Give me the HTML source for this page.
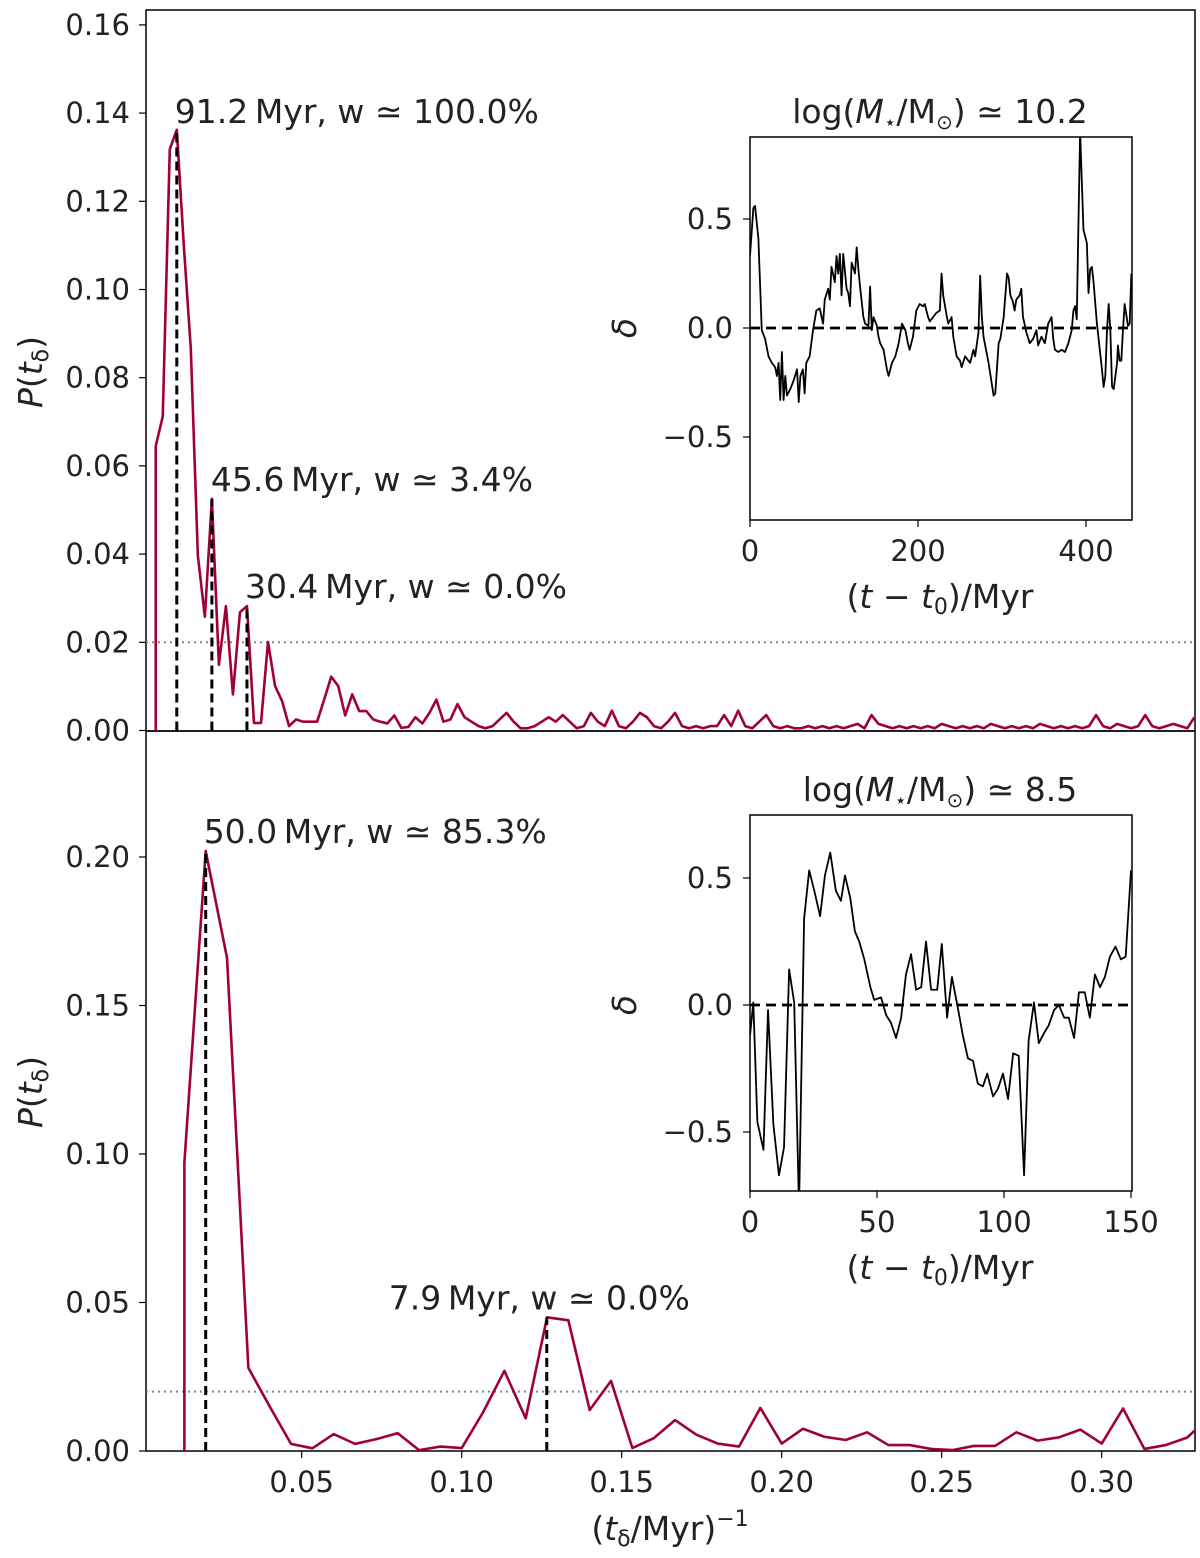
<!DOCTYPE html>
<html><head><meta charset="utf-8">
<style>
html,body{margin:0;padding:0;background:#fff;}
svg text{font-family:"DejaVu Sans","Liberation Sans",sans-serif;fill:#222;}
</style></head>
<body>
<svg id="fig" xmlns="http://www.w3.org/2000/svg" width="1200" height="1553" viewBox="0 0 1200 1553">
<defs>
<clipPath id="cTop"><rect x="146" y="10" width="1049" height="721"/></clipPath>
<clipPath id="cBot"><rect x="146" y="731" width="1049" height="720"/></clipPath>
<clipPath id="cIn1"><rect x="750" y="137" width="382" height="383"/></clipPath>
<clipPath id="cIn2"><rect x="750" y="815" width="382" height="376"/></clipPath>
</defs>
<g id="root"></g>
</svg>
<script>
// ---- data ----
const topDf = 1/456;
const topStartK = 2;
const topValues = [0.0645,0.0712,0.1318,0.1362,0.11,0.0865,0.0397,0.0258,0.0525,0.0149,0.0282,0.0082,0.0268,0.0282,0.0017,0.0017,0.0201,0.0101,0.0067,0.001,0.0025,0.002,0.002,0.002,0.007,0.0122,0.0101,0.0034,0.0082,0.0044,0.0044,0.0025,0.002,0.0016,0.0034,0.0006,0.0008,0.003,0.0016,0.004,0.007,
0.002,0.0025,0.006,0.003,0.002,0.001,0.0005,0.001,0.0025,0.004,0.002,0.0005,0.0005,0.001,0.002,0.003,0.002,0.0035,0.002,0.0005,0.001,0.004,0.002,0.001,0.0045,0.001,0.0005,0.002,0.004,0.003,0.001,0.0005,0.002,0.004,0.001,0.0005,0.001,0.0005,0.001,0.001,0.0035,0.001,0.0045,0.001,0.0005,0.002,0.0035,0.001,0.0005,0.001,0.0005,0.0005,0.001,0.0005,0.001,0.0005,0.001,0.0005,0.001,0.0015,0.0005,0.0035,0.0015,0.001,0.0005,0.001,0.0005,0.001,0.0005,0.001,0.0005,0.0015,0.001,0.0005,0.001,0.0005,0.001,0.0005,0.0015,0.001,0.0005,0.001,0.0005,0.001,0.0005,0.0015,0.001,0.0005,0.001,0.0005,0.001,0.0005,0.001,0.0035,0.001,0.0005,0.0015,0.001,0.0005,0.001,0.0035,0.001,0.0005,0.001,0.0015,0.001,0.0005,0.003];
const botDf = 1/150;
const botStartK = 2;
const botValues = [0.097,0.202,0.166,0.028,0.015,0.0024,0.0009,0.0057,0.0024,0.004,0.006,0.0003,0.0015,0.001,0.013,0.027,0.011,0.045,0.044,0.0138,0.0236,0.001,0.0043,0.0104,0.0055,0.0025,0.0015,0.0145,0.0025,0.0075,0.0048,0.0037,0.0063,0.002,0.002,0.0007,0.0003,0.0017,0.0017,0.0063,0.0035,0.0046,0.0072,0.0025,0.0143,0.0007,0.002,0.0045,0.011];
const topPeaks = [91.2,45.6,30.4];
const topPeakP = [0.1362,0.0525,0.0282];
const topWeights = ["100.0","3.4","0.0"];
const botPeaks = [50.0,7.9];
const botPeakP = [0.202,0.045];
const botWeights = ["85.3","0.0"];
const threshold = 0.02;
const topYTicks = [0,0.02,0.04,0.06,0.08,0.10,0.12,0.14,0.16];
const botYTicks = [0,0.05,0.10,0.15,0.20];
const xTicks = [0.05,0.10,0.15,0.20,0.25,0.30];
const in1T = [0,4,6,10,14,18,22,26,30,32,34,36,38,40,42,44,48,52,56,58,60,63,65,67,71,73,75,79,83,87,89,93,95,97,101,103,105,107,109,111,115,117,119,121,125,127,129,131,135,137,141,143,145,147,151,153,155,159,163,165,169,173,177,181,185,188,190,194,198,202,206,208,212,214,218,222,226,228,230,234,236,240,242,246,250,252,256,260,262,266,268,272,274,276,278,284,290,292,296,298,302,306,308,310,313,315,317,321,323,325,329,333,337,341,343,347,351,355,359,361,363,367,371,375,379,383,385,387,389,391,393,397,401,403,405,407,409,413,419,421,423,425,427,429,431,433,437,438,440,442,444,446,450,452,454];
const in1D = [0.33,0.55,0.56,0.41,-0.01,-0.05,-0.13,-0.16,-0.18,-0.22,-0.16,-0.33,-0.11,-0.33,-0.22,-0.31,-0.28,-0.24,-0.19,-0.34,-0.22,-0.19,-0.30,-0.16,-0.13,-0.07,-0.01,0.08,0.09,0.02,0.13,0.18,0.13,0.28,0.21,0.33,0.25,0.34,0.15,0.34,0.18,0.16,0.10,0.30,0.25,0.37,0.27,0.19,0.05,0.02,0.01,0.19,-0.01,0.05,0.01,-0.04,-0.07,-0.10,-0.19,-0.22,-0.16,-0.13,-0.07,0.02,-0.01,-0.07,-0.10,-0.04,0.08,0.11,0.10,0.11,0.05,0.03,0.05,0.07,0.08,0.25,0.15,0.06,0.02,0.05,-0.04,-0.13,-0.15,-0.18,-0.13,-0.15,-0.16,-0.10,-0.13,-0.02,0.24,0.05,-0.04,-0.16,-0.31,-0.30,-0.07,-0.05,0.05,0.25,0.23,0.15,0.12,0.08,0.13,0.15,0.18,0.05,-0.02,-0.07,-0.05,-0.01,-0.08,-0.04,-0.07,0.02,0.05,-0.05,-0.10,-0.11,-0.10,-0.11,-0.07,-0.01,0.08,0.10,0.04,0.48,0.9,0.45,0.39,0.16,0.27,0.28,0.21,0.02,-0.19,-0.27,-0.22,-0.01,0.11,-0.01,-0.27,-0.28,-0.16,-0.08,-0.15,-0.15,-0.01,0.11,0.01,0.02,0.25];
const in2T = [0,1.3,2.9,5.3,7.1,9.2,11.4,13.4,15.4,17.4,19.3,21.3,23.3,25.3,27.6,29.5,31.6,33.8,35.8,37.4,39.5,41.3,43,45,47.4,48.9,51.6,53.6,55.5,57.5,59.5,61.4,63.4,65.4,67.4,69.3,71.3,73.7,75.5,77.6,79.5,81.8,83.8,85.8,87.8,89.7,91.7,93.4,95.7,97.6,99.6,101.6,103.6,105.8,107.9,109.7,111.8,113.7,115.8,117.6,119.7,121.6,123.7,125.5,127.6,129.5,131.8,133.8,135.8,137.8,139.7,141.7,143.9,146,147.9,150];
const in2D = [-0.12,0.01,-0.46,-0.57,-0.02,-0.47,-0.67,-0.56,0.14,0.01,-0.8,0.34,0.53,0.45,0.35,0.51,0.60,0.45,0.41,0.51,0.42,0.29,0.25,0.18,0.07,0.02,0.03,-0.04,-0.07,-0.13,-0.05,0.12,0.20,0.06,0.07,0.25,0.06,0.06,0.24,-0.05,0.11,-0.01,-0.12,-0.21,-0.22,-0.31,-0.32,-0.27,-0.36,-0.33,-0.27,-0.37,-0.19,-0.20,-0.67,-0.14,0.01,-0.15,-0.11,-0.08,-0.02,0.0,-0.05,-0.05,-0.13,0.05,0.05,-0.05,0.12,0.07,0.11,0.19,0.23,0.18,0.19,0.53];
const in1XTicks=[0,200,400], in2XTicks=[0,50,100,150], in1YTicks=[-0.5,0,0.5], in2YTicks=[-0.5,0,0.5];

// ---- scales ----
const X = f => 141.7 + f*3200;
const Ytop = p => 730.5 - p*4410;
const Ybot = p => 1451 - p*2970;
const I1x = t => 750 + t*0.84, I1y = d => 328 - d*218;
const I2x = t => 750 + t*(127/50), I2y = d => 1005 - d*254;

const NS="http://www.w3.org/2000/svg";
const root=document.getElementById('root');
function mk(tag, attrs, parent){const e=document.createElementNS(NS,tag);for(const k in attrs)e.setAttribute(k,attrs[k]);(parent||root).appendChild(e);return e;}
function fmt(v,d){let s=Math.abs(v).toFixed(d);return (v<0?"\u2212":"")+s;}
const TF=29, AF=33;

let e;
e=mk('rect',{x:146,y:10,width:1049,height:721,fill:'none',stroke:'#000','stroke-width':1.5});


e=mk('rect',{x:146,y:731,width:1049,height:720,fill:'none',stroke:'#000','stroke-width':1.5});



topYTicks.forEach(v=>{const y=Ytop(v);
 mk('line',{x1:139,x2:146,y1:y,y2:y,stroke:'#000','stroke-width':1.2});
 e=mk('text',{x:130,y:y+10,'text-anchor':'end','font-size':TF});e.textContent=v.toFixed(2);
 
 
});
botYTicks.forEach(v=>{const y=Ybot(v);
 mk('line',{x1:139,x2:146,y1:y,y2:y,stroke:'#000','stroke-width':1.2});
 e=mk('text',{x:130,y:y+10,'text-anchor':'end','font-size':TF});e.textContent=v.toFixed(2);
 
 
});
xTicks.forEach(v=>{const x=X(v);
 mk('line',{x1:x,x2:x,y1:1451,y2:1458,stroke:'#000','stroke-width':1.2});
 e=mk('text',{x:x,y:1492,'text-anchor':'middle','font-size':TF});e.textContent=v.toFixed(2);
 
 
});

e=mk('line',{x1:146,x2:1195,y1:Ytop(threshold),y2:Ytop(threshold),stroke:'#888','stroke-width':2,'stroke-dasharray':'2 4'});


e=mk('line',{x1:146,x2:1195,y1:Ybot(threshold),y2:Ybot(threshold),stroke:'#888','stroke-width':2,'stroke-dasharray':'2 4'});



function series(vals,startK,df,Y,clip,name){
 let pts=[[X(startK*df),Y(0)]];
 vals.forEach((v,i)=>pts.push([X((startK+i)*df),Y(v)]));
 const p=mk('polyline',{points:pts.map(q=>q.join(',')).join(' '),fill:'none',stroke:'#a0003a','stroke-width':2.6,'stroke-linejoin':'round','clip-path':'url(#'+clip+')'});
 
 
}
series(topValues,topStartK,topDf,Ytop,'cTop','top-periodogram-line');
series(botValues,botStartK,botDf,Ybot,'cBot','bottom-periodogram-line');

function peaks(per,pv,w,Y,name,offsets){
 per.forEach((t,i)=>{const x=X(1/t);
  e=mk('line',{x1:x,x2:x,y1:Y(0),y2:Y(pv[i]),stroke:'#000','stroke-width':3,'stroke-dasharray':'9 5'});
  
  
  e=mk('text',{x:x+offsets[i][0],y:Y(pv[i])+offsets[i][1],'font-size':AF});
  e.textContent=t.toFixed(1)+"\u2009Myr, w \u2243 "+w[i]+"%";
  
  
 });
}
peaks(topPeaks,topPeakP,topWeights,Ytop,'top',[[-2,-7],[-1,-8],[-2,-8]]);
peaks(botPeaks,botPeakP,botWeights,Ybot,'bottom',[[-2,-8],[-158,-8]]);

e=mk('text',{x:0,y:0,'font-size':AF,'text-anchor':'middle',transform:'translate(42,372) rotate(-90)'});
e.innerHTML='<tspan font-style="italic">P</tspan>(<tspan font-style="italic">t</tspan><tspan font-size="22" dy="6">δ</tspan><tspan dy="-6">)</tspan>';


e=mk('text',{x:0,y:0,'font-size':AF,'text-anchor':'middle',transform:'translate(42,1092) rotate(-90)'});
e.innerHTML='<tspan font-style="italic">P</tspan>(<tspan font-style="italic">t</tspan><tspan font-size="22" dy="6">δ</tspan><tspan dy="-6">)</tspan>';


e=mk('text',{x:670,y:1540,'font-size':AF,'text-anchor':'middle'});
e.innerHTML='(<tspan font-style="italic">t</tspan><tspan font-size="22" dy="6">δ</tspan><tspan dy="-6">/Myr)</tspan><tspan font-size="22" dy="-14">−1</tspan>';



function inset(o){
 e=mk('rect',{x:750,y:o.top,width:382,height:o.h,fill:'#fff',stroke:'#000','stroke-width':1.5});
 
 
 o.yt.forEach(v=>{const y=o.Y(v);
  mk('line',{x1:743,x2:750,y1:y,y2:y,stroke:'#000','stroke-width':1.2});
  e=mk('text',{x:733,y:y+10,'text-anchor':'end','font-size':TF});e.textContent=fmt(v,1);
  
  
 });
 o.xt.forEach(v=>{const x=o.X(v);
  mk('line',{x1:x,x2:x,y1:o.top+o.h,y2:o.top+o.h+7,stroke:'#000','stroke-width':1.2});
  e=mk('text',{x:x,y:o.top+o.h+41,'text-anchor':'middle','font-size':TF});e.textContent=String(v);
  
  
 });
 e=mk('line',{x1:750,x2:1132,y1:o.Y(0),y2:o.Y(0),stroke:'#000','stroke-width':2.8,'stroke-dasharray':'10 6'});
 
 
 const pts=o.T.map((t,i)=>o.X(t)+','+o.Y(o.D[i])).join(' ');
 e=mk('polyline',{points:pts,fill:'none',stroke:'#000','stroke-width':1.8,'stroke-linejoin':'round','clip-path':'url(#'+o.clip+')'});
 
 
 e=mk('text',{x:940,y:o.top-14,'text-anchor':'middle','font-size':AF});
 e.innerHTML='log(<tspan font-style="italic">M</tspan><tspan font-size="20" dy="6">⋆</tspan><tspan dy="-6">/M</tspan><tspan font-size="20" dy="6">⊙</tspan><tspan dy="-6">) ≃ '+o.mass+'</tspan>';
 
 
 e=mk('text',{x:940,y:o.top+o.h+88,'text-anchor':'middle','font-size':AF});
 e.innerHTML='(<tspan font-style="italic">t</tspan> − <tspan font-style="italic">t</tspan><tspan font-size="22" dy="6">0</tspan><tspan dy="-6">)/Myr</tspan>';
 
 
 e=mk('text',{x:0,y:0,'font-size':AF,'font-style':'italic','text-anchor':'middle',transform:'translate(636,'+o.Y(0)+') rotate(-90)'});
 e.textContent='δ';
 
 
}
inset({name:'top-inset',top:137,h:383,X:I1x,Y:I1y,T:in1T,D:in1D,xt:in1XTicks,yt:in1YTicks,clip:'cIn1',mass:'10.2'});
inset({name:'bottom-inset',top:815,h:376,X:I2x,Y:I2y,T:in2T,D:in2D,xt:in2XTicks,yt:in2YTicks,clip:'cIn2',mass:'8.5'});
</script>
</body></html>
